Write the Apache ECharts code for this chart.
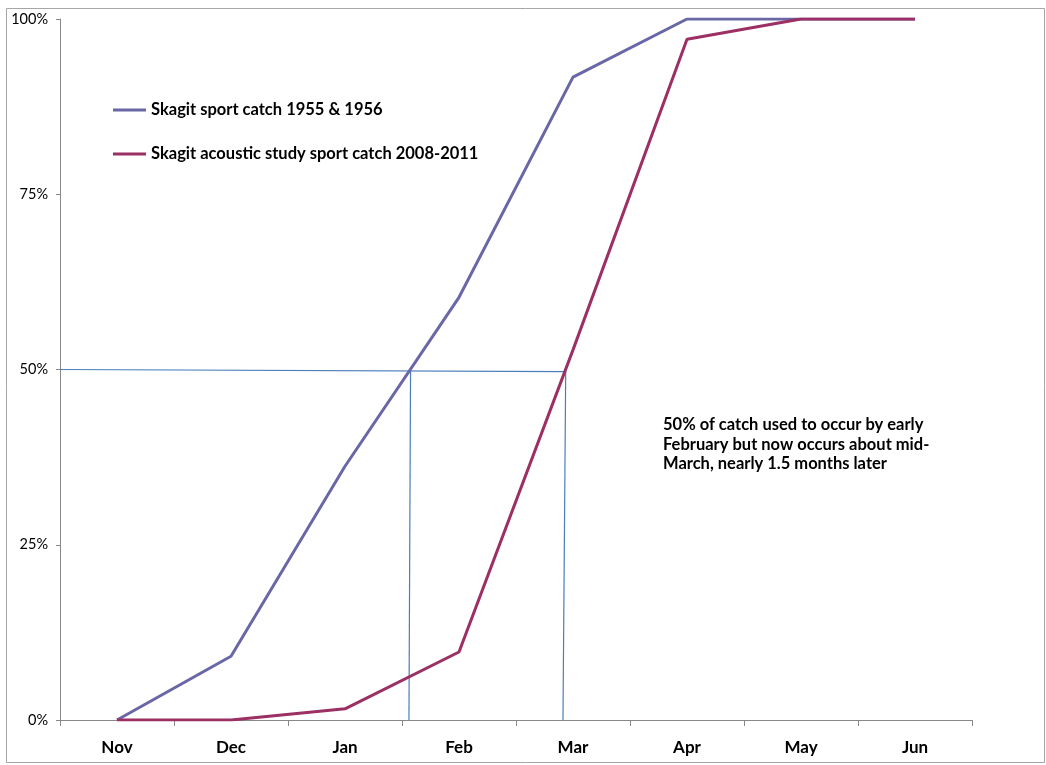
<!DOCTYPE html>
<html>
<head>
<meta charset="utf-8">
<script src="https://cdn.jsdelivr.net/npm/echarts@6/dist/echarts.min.js"></script>
<style>
html,body{margin:0;padding:0;background:#fff;}
#chart{width:1046px;height:765px;}
</style>
</head>
<body>
<div id="chart"></div>
<script>
var months = ['Nov','Dec','Jan','Feb','Mar','Apr','May','Jun'];
var name1 = 'Skagit sport catch 1955 & 1956';
var name2 = 'Skagit acoustic study sport catch 2008-2011';
var sport1955 = [0, 9.1, 36.2, 60.3, 91.7, 100, 100, 100];
var acoustic2008 = [0, 0, 1.6, 9.7, 52.8, 97.1, 100, 100];
var yTicks = [0, 25, 50, 75, 100];
// reference lines in (month-position, percent) units; month-position runs 0..8 across the axis
var refHorizontal = [[0, 50], [4.436, 49.7]];
var refEarly = [[3.075, 50], [3.061, 0]];
var refLate = [[4.436, 49.7], [4.412, 0]];
var note = '50% of catch used to occur by early\nFebruary but now occurs about mid-\nMarch, nearly 1.5 months later';

var font = 'Lato, "Open Sans", sans-serif';
var chart = echarts.init(document.getElementById('chart'));
var refStyle = {color: '#4a7ebb', width: 1.2};
chart.setOption({
  animation: false,
  backgroundColor: '#fff',
  grid: {left: 60, right: 74, top: 19, bottom: 45, containLabel: false},
  legend: {
    orient: 'vertical', left: 108, top: 95,
    icon: 'rect', itemWidth: 33, itemHeight: 3, itemGap: 24,
    data: [name1, name2],
    textStyle: {fontFamily: font, fontWeight: 'bold', fontSize: 16.5, lineHeight: 20, color: '#000'}
  },
  xAxis: [{
    type: 'category', data: months, boundaryGap: true,
    axisLine: {lineStyle: {color: '#888', width: 1}},
    axisTick: {show: true, length: 6, lineStyle: {color: '#888'}},
    axisLabel: {fontFamily: font, fontWeight: 'bold', fontSize: 17, color: '#000', margin: 19}
  }, {
    type: 'value', min: 0, max: 8, show: false
  }],
  yAxis: {
    type: 'value', min: 0, max: 100, interval: 25,
    axisLine: {show: true, lineStyle: {color: '#888', width: 1}},
    axisTick: {show: true, length: 4, lineStyle: {color: '#888'}},
    splitLine: {show: false},
    axisLabel: {fontFamily: font, fontSize: 14.5, color: '#000', margin: 12,
      formatter: function(v){ return yTicks.indexOf(v) >= 0 ? v + '%' : ''; }}
  },
  series: [
    {name: name1, type: 'line', data: sport1955, symbol: 'none',
     lineStyle: {color: '#6a67a6', width: 3}, itemStyle: {color: '#6a67a6'}, z: 3},
    {name: name2, type: 'line', data: acoustic2008, symbol: 'none',
     lineStyle: {color: '#9c2f63', width: 3}, itemStyle: {color: '#9c2f63'}, z: 3},
    {type: 'line', xAxisIndex: 1, data: refHorizontal, symbol: 'none', lineStyle: refStyle, z: 2, silent: true},
    {type: 'line', xAxisIndex: 1, data: refEarly, symbol: 'none', lineStyle: refStyle, z: 2, silent: true},
    {type: 'line', xAxisIndex: 1, data: refLate, symbol: 'none', lineStyle: refStyle, z: 2, silent: true}
  ],
  graphic: [
    {type: 'rect', shape: {x: 6.5, y: 8.5, width: 1038, height: 754},
     style: {fill: 'none', stroke: '#a6a6a6', lineWidth: 1}, silent: true, z: -1},
    {type: 'text', left: 663, top: 415,
     style: {text: note, fontFamily: font, fontWeight: 'bold', fontSize: 16.5, lineHeight: 19.5, fill: '#000'}}
  ]
});
</script>
</body>
</html>
